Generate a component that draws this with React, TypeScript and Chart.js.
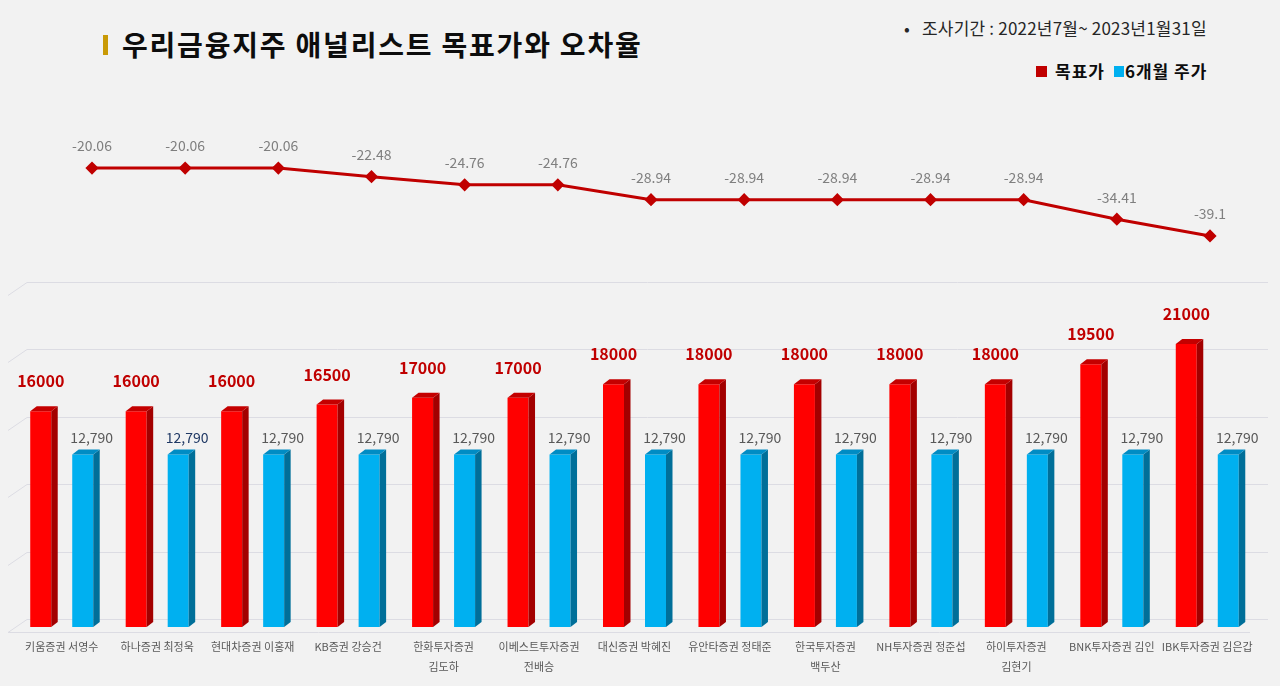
import React, { useEffect, useRef } from "react";
import { Chart, registerables } from "chart.js";

Chart.register(...registerables);

const categories: (string | string[])[] = [
  "키움증권 서영수",
  "하나증권 최정욱",
  "현대차증권 이홍재",
  "KB증권 강승건",
  ["한화투자증권", "김도하"],
  ["이베스트투자증권", "전배승"],
  "대신증권 박혜진",
  "유안타증권 정태준",
  ["한국투자증권", "백두산"],
  "NH투자증권 정준섭",
  ["하이투자증권", "김현기"],
  "BNK투자증권 김인",
  "IBK투자증권 김은갑",
];

const targetPrices = [16000, 16000, 16000, 16500, 17000, 17000, 18000, 18000, 18000, 18000, 18000, 19500, 21000];
const sixMonthPrices = [12790, 12790, 12790, 12790, 12790, 12790, 12790, 12790, 12790, 12790, 12790, 12790, 12790];
const errorRates = [-20.06, -20.06, -20.06, -22.48, -24.76, -24.76, -28.94, -28.94, -28.94, -28.94, -28.94, -34.41, -39.1];

const FONT = "'Noto Sans CJK KR', 'Noto Sans', sans-serif";

const DEPTH_X = 6.5;
const DEPTH_Y = 5;

const faceColors = [
  { side: "#a30000", top: "#c40000" },
  { side: "#006f99", top: "#008cc4" },
];

const grid3dPlugin = {
  id: "grid3d",
  beforeDatasetsDraw(chart: any) {
    const { ctx, chartArea } = chart;
    const ys = chart.scales.y;
    ctx.save();
    ctx.strokeStyle = "#dcdce3";
    ctx.lineWidth = 1;
    ys.ticks.forEach((t: any) => {
      const s = Math.round(ys.getPixelForValue(t.value));
      const back = s - 8 + 0.5;
      ctx.beginPath();
      ctx.moveTo(chartArea.left - 6, s + 5.5);
      ctx.lineTo(chartArea.left + 13, back);
      ctx.lineTo(chartArea.right + 13, back);
      ctx.stroke();
      if (t.value === 0) {
        ctx.beginPath();
        ctx.moveTo(chartArea.left - 6, s + 5.5);
        ctx.lineTo(chartArea.right - 5, s + 5.5);
        ctx.stroke();
      }
    });
    ctx.restore();
  },
};

const bar3dPlugin = {
  id: "bar3d",
  afterDatasetsDraw(chart: any) {
    const { ctx } = chart;
    ctx.save();
    chart.data.datasets.forEach((ds: any, di: number) => {
      const meta = chart.getDatasetMeta(di);
      const colors = faceColors[di];
      meta.data.forEach((bar: any, i: number) => {
        const { x, y, base, width } = bar.getProps(["x", "y", "base", "width"], true);
        const l = x - width / 2;
        const r = x + width / 2;
        ctx.fillStyle = colors.side;
        ctx.beginPath();
        ctx.moveTo(r, base);
        ctx.lineTo(r + DEPTH_X, base - DEPTH_Y);
        ctx.lineTo(r + DEPTH_X, y - DEPTH_Y);
        ctx.lineTo(r, y);
        ctx.closePath();
        ctx.fill();
        ctx.fillStyle = colors.top;
        ctx.beginPath();
        ctx.moveTo(l, y);
        ctx.lineTo(l + DEPTH_X, y - DEPTH_Y);
        ctx.lineTo(r + DEPTH_X, y - DEPTH_Y);
        ctx.lineTo(r, y);
        ctx.closePath();
        ctx.fill();
        // value labels
        const v = ds.data[i];
        ctx.textAlign = "center";
        ctx.textBaseline = "middle";
        if (di === 0) {
          ctx.font = `bold 16px ${FONT}`;
          ctx.fillStyle = "#c00000";
          ctx.fillText(String(v), x, y - 30);
        } else {
          ctx.font = `14px ${FONT}`;
          ctx.fillStyle = i === 1 ? "#1f3864" : "#595959";
          ctx.fillText(v.toLocaleString("en-US"), x + 9, y - 17);
        }
      });
    });
    ctx.restore();
  },
};

const lineLabelPlugin = {
  id: "lineLabels",
  afterDatasetsDraw(chart: any) {
    const { ctx } = chart;
    const meta = chart.getDatasetMeta(0);
    ctx.save();
    ctx.font = `14px ${FONT}`;
    ctx.fillStyle = "#7f7f7f";
    ctx.textAlign = "center";
    ctx.textBaseline = "middle";
    meta.data.forEach((pt: any, i: number) => {
      ctx.fillText(String(errorRates[i]), pt.x, pt.y - 22);
    });
    ctx.restore();
  },
};

export default function App() {
  const lineRef = useRef<HTMLCanvasElement>(null);
  const barRef = useRef<HTMLCanvasElement>(null);

  useEffect(() => {
    const lineChart = new Chart(lineRef.current!, {
      type: "line",
      data: {
        labels: categories.map((c) => (Array.isArray(c) ? c.join(" ") : c)),
        datasets: [
          {
            data: errorRates,
            borderColor: "#c00000",
            backgroundColor: "#c00000",
            borderWidth: 3,
            pointStyle: "rectRot",
            pointRadius: 4.5,
            pointBackgroundColor: "#c00000",
            pointBorderColor: "#c00000",
            tension: 0,
          },
        ],
      },
      options: {
        responsive: false,
        animation: false,
        layout: { padding: { top: 50, bottom: 13, left: 92, right: 70 } },
        plugins: { legend: { display: false }, tooltip: { enabled: false } },
        scales: {
          x: { display: false, offset: false },
          y: { display: false, min: -45, max: -15 },
        },
      },
      plugins: [lineLabelPlugin],
    });

    const barChart = new Chart(barRef.current!, {
      type: "bar",
      data: {
        labels: categories,
        datasets: [
          {
            label: "목표가",
            data: targetPrices,
            backgroundColor: "#ff0000",
            categoryPercentage: 0.88,
            barPercentage: 0.5,
          },
          {
            label: "6개월 주가",
            data: sixMonthPrices,
            backgroundColor: "#00b0f0",
            categoryPercentage: 0.88,
            barPercentage: 0.5,
          },
        ],
      },
      options: {
        responsive: false,
        animation: false,
        layout: { padding: { top: 20, bottom: 0, left: 14, right: 25 } },
        plugins: { legend: { display: false }, tooltip: { enabled: false } },
        scales: {
          x: {
            grid: { display: false, drawTicks: false },
            border: { display: false },
            ticks: {
              color: "#595959",
              font: { family: FONT, size: 11, lineHeight: 20 / 11 },
              padding: 10,
              maxRotation: 0,
              autoSkip: false,
            },
          },
          y: {
            display: false,
            min: 0,
            max: 25000,
            ticks: { stepSize: 5000 },
          },
        },
      },
      plugins: [grid3dPlugin, bar3dPlugin],
    });

    return () => {
      lineChart.destroy();
      barChart.destroy();
    };
  }, []);

  return (
    <div
      style={{
        position: "fixed",
        left: 0,
        top: 0,
        width: 1280,
        height: 686,
        background: "#f2f2f2",
        overflow: "hidden",
        fontFamily: FONT,
      }}
    >
      <div style={{ position: "absolute", left: 103, top: 35, width: 5, height: 20, background: "#c99a06" }} />
      <div
        style={{
          position: "absolute",
          left: 122,
          top: 24,
          fontSize: 28,
          fontWeight: 700,
          color: "#0d0d0d",
          whiteSpace: "nowrap",
          lineHeight: "40px",
          letterSpacing: 1.8,
        }}
      >
        우리금융지주 애널리스트 목표가와 오차율
      </div>
      <div
        style={{
          position: "absolute",
          left: 904,
          top: 16,
          fontSize: 17,
          color: "#262626",
          whiteSpace: "nowrap",
          lineHeight: "24px",
          letterSpacing: 0.2,
        }}
      >
        <span style={{ marginRight: 12 }}>•</span>조사기간 : 2022년7월~ 2023년1월31일
      </div>
      <div
        style={{
          position: "absolute",
          left: 1036,
          top: 59,
          fontSize: 17,
          fontWeight: 700,
          color: "#0d0d0d",
          whiteSpace: "nowrap",
          lineHeight: "24px",
          display: "flex",
          alignItems: "center",
          letterSpacing: 1,
        }}
      >
        <span style={{ display: "inline-block", width: 11, height: 11, background: "#c00000", marginRight: 8 }} />
        <span style={{ marginRight: 9 }}>목표가</span>
        <span style={{ display: "inline-block", width: 10, height: 11, background: "#00b0f0", marginRight: 1 }} />
        <span>6개월 주가</span>
      </div>
      <canvas ref={lineRef} width={1280} height={170} style={{ position: "absolute", left: 0, top: 100 }} />
      <canvas ref={barRef} width={1280} height={417} style={{ position: "absolute", left: 0, top: 270 }} />
    </div>
  );
}
